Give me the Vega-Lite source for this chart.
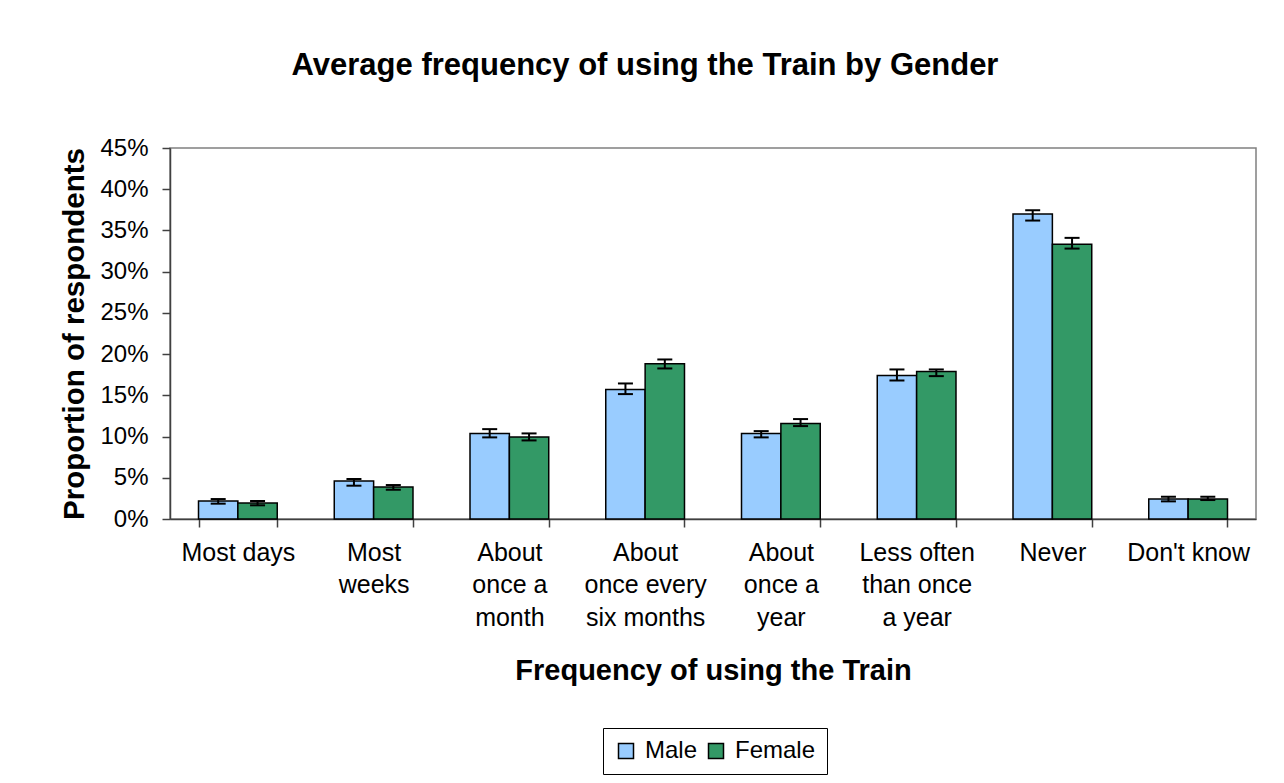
{
  "$schema": "https://vega.github.io/schema/vega-lite/v6.json",
  "autosize": "none",
  "width": 1086,
  "height": 371,
  "padding": {"left": 170, "top": 148, "right": 28, "bottom": 264},
  "background": "white",
  "title": {
    "text": "Average frequency of using the Train by Gender",
    "font": "Liberation Sans",
    "fontSize": 31,
    "fontWeight": "bold",
    "color": "black",
    "anchor": "middle",
    "frame": "group",
    "dx": -68,
    "offset": 54
  },
  "data": {
    "values": [
      {"freq": "Most days", "gender": "Male", "value": 0.0218, "lo": 0.0186, "hi": 0.0242},
      {"freq": "Most days", "gender": "Female", "value": 0.0194, "lo": 0.0166, "hi": 0.0218},
      {"freq": "Most weeks", "gender": "Male", "value": 0.046, "lo": 0.0404, "hi": 0.0485},
      {"freq": "Most weeks", "gender": "Female", "value": 0.0388, "lo": 0.0355, "hi": 0.0412},
      {"freq": "About once a month", "gender": "Male", "value": 0.1038, "lo": 0.099, "hi": 0.109},
      {"freq": "About once a month", "gender": "Female", "value": 0.0994, "lo": 0.0953, "hi": 0.1038},
      {"freq": "About once every six months", "gender": "Male", "value": 0.1571, "lo": 0.1515, "hi": 0.1644},
      {"freq": "About once every six months", "gender": "Female", "value": 0.1882, "lo": 0.1826, "hi": 0.1935},
      {"freq": "About once a year", "gender": "Male", "value": 0.1038, "lo": 0.099, "hi": 0.1066},
      {"freq": "About once a year", "gender": "Female", "value": 0.1159, "lo": 0.1127, "hi": 0.1212},
      {"freq": "Less often than once a year", "gender": "Male", "value": 0.1741, "lo": 0.168, "hi": 0.1814},
      {"freq": "Less often than once a year", "gender": "Female", "value": 0.179, "lo": 0.1733, "hi": 0.1814},
      {"freq": "Never", "gender": "Male", "value": 0.37, "lo": 0.362, "hi": 0.3745},
      {"freq": "Never", "gender": "Female", "value": 0.3333, "lo": 0.328, "hi": 0.341},
      {"freq": "Don't know", "gender": "Male", "value": 0.0242, "lo": 0.0214, "hi": 0.027},
      {"freq": "Don't know", "gender": "Female", "value": 0.0242, "lo": 0.023, "hi": 0.027}
    ]
  },
  "encoding": {
    "x": {
      "field": "freq",
      "type": "nominal",
      "sort": ["Most days", "Most weeks", "About once a month", "About once every six months", "About once a year", "Less often than once a year", "Never", "Don't know"],
      "scale": {"paddingInner": 0.42, "paddingOuter": 0.21},
      "axis": {
        "title": "Frequency of using the Train",
        "labelAngle": 0,
        "labelExpr": "{'Most days': ['Most days'], 'Most weeks': ['Most', 'weeks'], 'About once a month': ['About', 'once a', 'month'], 'About once every six months': ['About', 'once every', 'six months'], 'About once a year': ['About', 'once a', 'year'], 'Less often than once a year': ['Less often', 'than once', 'a year'], 'Never': ['Never'], \"Don't know\": [\"Don't know\"]}[datum.label]",
        "labelFontSize": 25,
        "labelLineHeight": 32.5,
        "labelBaseline": "top",
        "labelPadding": 13,
        "labelLimit": 300,
        "tickBand": "extent",
        "tickSize": 8,
        "titleFontSize": 29,
        "titlePadding": 26
      }
    },
    "xOffset": {"field": "gender", "type": "nominal", "sort": ["Male", "Female"]}
  },
  "layer": [
    {
      "mark": {"type": "bar", "stroke": "black", "strokeWidth": 1.5},
      "encoding": {
        "y": {
          "field": "value",
          "type": "quantitative",
          "scale": {"domain": [0, 0.45]},
          "axis": {
            "title": "Proportion of respondents",
            "values": [0, 0.05, 0.1, 0.15, 0.2, 0.25, 0.3, 0.35, 0.4, 0.45],
            "format": ".0%",
            "grid": false,
            "tickSize": 8,
            "labelFontSize": 24,
            "labelPadding": 14,
            "titleFontSize": 29.5,
            "titlePadding": 10
          }
        },
        "color": {
          "field": "gender",
          "type": "nominal",
          "sort": ["Male", "Female"],
          "scale": {"domain": ["Male", "Female"], "range": ["#99CCFF", "#339966"]},
          "legend": {
            "title": null,
            "orient": "none",
            "legendX": 433,
            "legendY": 580,
            "direction": "horizontal",
            "strokeColor": "black",
            "fillColor": "white",
            "padding": 11,
            "labelFontSize": 24,
            "labelColor": "black",
            "labelOffset": 7,
            "symbolType": "square",
            "symbolSize": 225,
            "symbolStrokeColor": "black",
            "symbolStrokeWidth": 1.5,
            "symbolOpacity": 1,
            "columnPadding": 6
          }
        }
      }
    },
    {
      "mark": {"type": "rule", "color": "black", "strokeWidth": 2},
      "encoding": {
        "y": {"field": "lo", "type": "quantitative"},
        "y2": {"field": "hi"}
      }
    },
    {
      "mark": {"type": "tick", "color": "black", "thickness": 2, "size": 15, "opacity": 1},
      "encoding": {"y": {"field": "lo", "type": "quantitative"}}
    },
    {
      "mark": {"type": "tick", "color": "black", "thickness": 2, "size": 15, "opacity": 1},
      "encoding": {"y": {"field": "hi", "type": "quantitative"}}
    }
  ],
  "config": {
    "font": "Liberation Sans",
    "view": {"stroke": "#808080", "strokeWidth": 1.5},
    "axis": {
      "domainColor": "#404040",
      "domainWidth": 1.5,
      "tickColor": "#404040",
      "tickWidth": 1.5,
      "labelColor": "black",
      "labelFont": "Liberation Sans",
      "titleFont": "Liberation Sans",
      "titleFontWeight": "bold",
      "titleColor": "black"
    },
    "legend": {"labelFont": "Liberation Sans"}
  }
}
